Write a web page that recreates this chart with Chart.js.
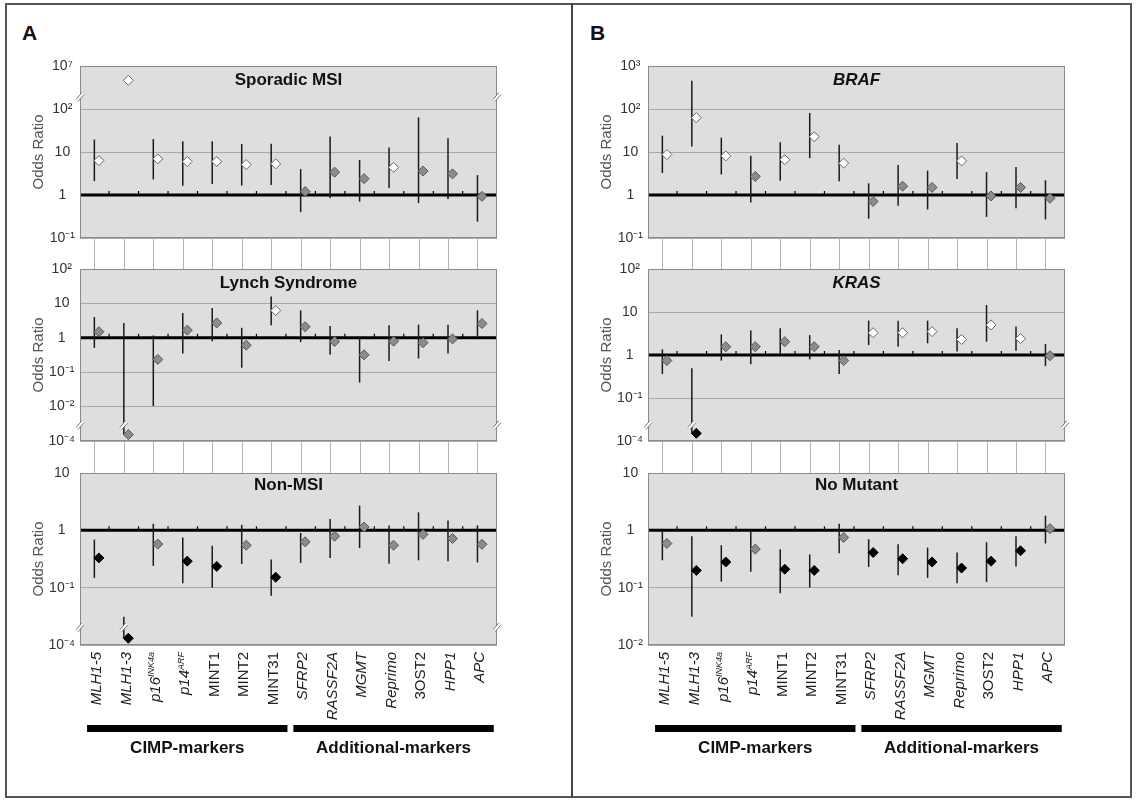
<!DOCTYPE html>
<html>
<head>
<meta charset="utf-8">
<title>Odds ratios of marker methylation</title>
<script src="https://cdn.jsdelivr.net/npm/chart.js"></script>
<style>
    body { margin: 0; width: 1139px; height: 802px; background: #fff; position: relative; overflow: hidden; }
    .frame { position: absolute; left: 5px; top: 3px; width: 1127px; height: 795px; border: 2px solid #555; box-sizing: border-box; }
    .divider { position: absolute; left: 571px; top: 3px; width: 2px; height: 795px; background: #444; }
    .letter { position: absolute; font: bold 21px "Liberation Sans", Arial, sans-serif; line-height: 21px; color: #111; }
    .panel { position: absolute; }
</style>
</head>
<body>
<div class="frame"></div>
<div class="divider"></div>
<div class="letter" style="left: 22px; top: 22px;">A</div>
<div class="letter" style="left: 590px; top: 22px;">B</div>
<div id="holder"></div>

<script>
// markers on the x axis ("^" starts a superscript)
const markers = ['MLH1-5', 'MLH1-3', 'p16^INK4a', 'p14^ARF', 'MINT1', 'MINT2', 'MINT31',
                 'SFRP2', 'RASSF2A', 'MGMT', 'Reprimo', '3OST2', 'HPP1', 'APC'];
const markerItalic = [true, true, true, true, false, false, false, true, true, true, true, false, true, true];
const groupNames = ['CIMP-markers', 'Additional-markers'];
const groupFirst = [0, 7];
const groupLast = [6, 13];

// sig: up = significantly raised (white), ns = not significant (grey), down = lowered (black)

// A - Sporadic MSI
const sporadicOR   = [6.3, 7e4, 6.9, 6.0, 6.0, 5.1, 5.3, 1.2, 3.4, 2.4, 4.4, 3.6, 3.1, 0.93];
const sporadicLow  = [2.1, null, 2.3, 1.65, 1.8, 1.65, 1.7, 0.40, 0.85, 0.70, 1.45, 0.65, 0.81, 0.24];
const sporadicHigh = [19.5, null, 20, 17.7, 17.7, 15.4, 15.6, 4.0, 23, 6.5, 12.8, 64, 21, 2.9];
const sporadicSig  = ['up', 'up', 'up', 'up', 'up', 'up', 'up', 'ns', 'ns', 'ns', 'up', 'ns', 'ns', 'ns'];
const sporadicTicks = [0.1, 1, 10, 100, 1e7];
const sporadicTickLabels = ['10⁻¹', '1', '10', '10²', '10⁷'];

// A - Lynch Syndrome
const lynchOR   = [1.5, 4e-4, 0.235, 1.67, 2.7, 0.61, 6.2, 2.1, 0.78, 0.32, 0.8, 0.72, 0.93, 2.6];
const lynchLow  = [0.51, 4e-4, 0.0104, 0.35, 0.8, 0.135, 2.3, 0.75, 0.32, 0.05, 0.21, 0.25, 0.35, 1.0];
const lynchHigh = [4.0, 2.7, 1.17, 5.3, 7.4, 1.95, 16, 6.3, 2.2, 1.07, 2.3, 2.4, 2.4, 6.3];
const lynchSig  = ['ns', 'ns', 'ns', 'ns', 'ns', 'ns', 'up', 'ns', 'ns', 'ns', 'ns', 'ns', 'ns', 'ns'];
const lynchTicks = [1e-4, 0.01, 0.1, 1, 10, 100];
const lynchTickLabels = ['10⁻⁴', '10⁻²', '10⁻¹', '1', '10', '10²'];

// A - Non-MSI
const nonMsiOR   = [0.33, 8e-4, 0.575, 0.29, 0.235, 0.55, 0.152, 0.63, 0.79, 1.14, 0.55, 0.85, 0.72, 0.57];
const nonMsiLow  = [0.148, 8e-4, 0.24, 0.119, 0.1, 0.26, 0.072, 0.27, 0.33, 0.49, 0.26, 0.30, 0.29, 0.275];
const nonMsiHigh = [0.69, 0.031, 1.3, 0.75, 0.54, 1.25, 0.31, 0.9, 1.58, 2.7, 1.22, 2.06, 1.48, 1.22];
const nonMsiSig  = ['down', 'down', 'ns', 'down', 'down', 'ns', 'down', 'ns', 'ns', 'ns', 'ns', 'ns', 'ns', 'ns'];
const nonMsiTicks = [1e-4, 0.1, 1, 10];
const nonMsiTickLabels = ['10⁻⁴', '10⁻¹', '1', '10'];

// B - BRAF
const brafOR   = [8.7, 63, 8.1, 2.7, 6.6, 22.7, 5.5, 0.71, 1.6, 1.5, 6.2, 0.95, 1.5, 0.84];
const brafLow  = [3.25, 13.5, 3.0, 0.67, 2.15, 7.2, 2.1, 0.28, 0.56, 0.46, 2.35, 0.31, 0.49, 0.27];
const brafHigh = [24, 455, 21.5, 8.2, 16.8, 81, 14.8, 1.87, 5.0, 3.7, 16.2, 3.4, 4.5, 2.2];
const brafSig  = ['up', 'up', 'up', 'ns', 'up', 'up', 'up', 'ns', 'ns', 'ns', 'up', 'ns', 'ns', 'ns'];
const brafTicks = [0.1, 1, 10, 100, 1000];
const brafTickLabels = ['10⁻¹', '1', '10', '10²', '10³'];

// B - KRAS
const krasOR   = [0.74, 0.0015, 1.56, 1.56, 2.04, 1.56, 0.74, 3.3, 3.3, 3.5, 2.3, 5.0, 2.4, 0.96];
const krasLow  = [0.36, 0.0015, 0.74, 0.61, 1.05, 0.79, 0.36, 1.7, 1.56, 1.87, 1.2, 2.04, 1.26, 0.55];
const krasHigh = [1.36, 0.49, 3.0, 3.7, 4.2, 2.9, 1.3, 6.3, 6.3, 6.3, 4.2, 14.5, 4.6, 1.8];
const krasSig  = ['ns', 'down', 'ns', 'ns', 'ns', 'ns', 'ns', 'up', 'up', 'up', 'up', 'up', 'up', 'ns'];
const krasTicks = [1e-4, 0.1, 1, 10, 100];
const krasTickLabels = ['10⁻⁴', '10⁻¹', '1', '10', '10²'];

// B - No Mutant
const noMutOR   = [0.59, 0.2, 0.28, 0.47, 0.21, 0.2, 0.75, 0.41, 0.32, 0.28, 0.22, 0.29, 0.44, 1.07];
const noMutLow  = [0.30, 0.031, 0.127, 0.19, 0.08, 0.1, 0.40, 0.23, 0.165, 0.148, 0.12, 0.125, 0.235, 0.59];
const noMutHigh = [1.0, 0.79, 0.55, 1.0, 0.47, 0.38, 1.3, 0.70, 0.57, 0.50, 0.41, 0.62, 0.79, 1.8];
const noMutSig  = ['ns', 'down', 'down', 'ns', 'down', 'down', 'ns', 'down', 'down', 'down', 'down', 'down', 'down', 'ns'];
const noMutTicks = [0.01, 0.1, 1, 10];
const noMutTickLabels = ['10⁻²', '10⁻¹', '1', '10'];

const FONT = '"Liberation Sans", Arial, sans-serif';
const FILL = { up: '#ffffff', ns: '#8c8c8c', down: '#000000' };
const EDGE = { up: '#666666', ns: '#555555', down: '#000000' };
const BAR_SHIFT = 4.5; // error bars sit a little left of the diamonds

// broken log axis: beyond brk.at the decades are squeezed so brk.log lands on brk.pos
function toPos(v, brk) {
    const l = Math.log10(v);
    if (brk && (l - brk.at) * (brk.log - brk.at) > 0) {
        return brk.at + (l - brk.at) * (brk.pos - brk.at) / (brk.log - brk.at);
    }
    return l;
}

const panels = [
    { col: 0, row: 0, title: 'Sporadic MSI', italic: false, or: sporadicOR, low: sporadicLow, high: sporadicHigh, sig: sporadicSig, ticks: sporadicTicks, tickLabels: sporadicTickLabels, brk: { at: 2.27, log: 7, pos: 3 } },
    { col: 0, row: 1, title: 'Lynch Syndrome', italic: false, or: lynchOR, low: lynchLow, high: lynchHigh, sig: lynchSig, ticks: lynchTicks, tickLabels: lynchTickLabels, brk: { at: -2.55, log: -4, pos: -3 } },
    { col: 0, row: 2, title: 'Non-MSI', italic: false, or: nonMsiOR, low: nonMsiLow, high: nonMsiHigh, sig: nonMsiSig, ticks: nonMsiTicks, tickLabels: nonMsiTickLabels, brk: { at: -1.7, log: -4, pos: -2 } },
    { col: 1, row: 0, title: 'BRAF', italic: true, or: brafOR, low: brafLow, high: brafHigh, sig: brafSig, ticks: brafTicks, tickLabels: brafTickLabels, brk: null },
    { col: 1, row: 1, title: 'KRAS', italic: true, or: krasOR, low: krasLow, high: krasHigh, sig: krasSig, ticks: krasTicks, tickLabels: krasTickLabels, brk: { at: -1.64, log: -4, pos: -2 } },
    { col: 1, row: 2, title: 'No Mutant', italic: false, or: noMutOR, low: noMutLow, high: noMutHigh, sig: noMutSig, ticks: noMutTicks, tickLabels: noMutTickLabels, brk: null }
];

const rowTop = [46, 249, 453];
const rowHeight = [223, 224, 349];
const PLOT_H = 172;

function line(ctx, x1, y1, x2, y2) {
    ctx.beginPath(); ctx.moveTo(x1, y1); ctx.lineTo(x2, y2); ctx.stroke();
}

function breakMark(ctx, x, y) {
    ctx.save();
    ctx.fillStyle = '#fff';
    ctx.beginPath();
    ctx.moveTo(x - 4, y + 2); ctx.lineTo(x + 2, y - 5); ctx.lineTo(x + 4, y - 3); ctx.lineTo(x - 2, y + 4);
    ctx.closePath(); ctx.fill();
    ctx.strokeStyle = '#777'; ctx.lineWidth = 1;
    line(ctx, x - 4, y + 2, x + 2, y - 5);
    line(ctx, x - 2, y + 4, x + 4, y - 3);
    ctx.restore();
}

function drawMarker(ctx, text, italic, xx, yy) {
    const parts = text.split('^');
    const base = parts[0], sup = parts[1] || '';
    const fBase = (italic ? 'italic ' : '') + '15px ' + FONT;
    const fSup = (italic ? 'italic ' : '') + '9px ' + FONT;
    ctx.font = fBase; const wb = ctx.measureText(base).width;
    ctx.font = fSup; const ws = ctx.measureText(sup).width;
    ctx.save();
    ctx.translate(xx, yy);
    ctx.rotate(-Math.PI / 2);
    ctx.fillStyle = '#222';
    ctx.textBaseline = 'middle';
    ctx.textAlign = 'left';
    ctx.font = fBase; ctx.fillText(base, -(wb + ws), 0);
    ctx.font = fSup; ctx.fillText(sup, -ws, -4);
    ctx.restore();
}

function makePlugin(pn, idx) {
    return {
        id: 'panel' + idx,
        beforeDraw(chart) {
            const a = chart.chartArea, ctx = chart.ctx;
            ctx.save();
            ctx.fillStyle = '#dedede';
            ctx.fillRect(a.left, a.top, a.right - a.left, a.bottom - a.top);
            ctx.restore();
        },
        beforeDatasetsDraw(chart) {
            const ctx = chart.ctx, a = chart.chartArea;
            const x = chart.scales.x, y = chart.scales.y;
            ctx.save();
            // reference line at OR = 1 with small category ticks
            const y1 = y.getPixelForValue(toPos(1, pn.brk));
            ctx.strokeStyle = '#000';
            ctx.lineWidth = 3;
            line(ctx, a.left, y1, a.right, y1);
            ctx.lineWidth = 1.2;
            for (let i = 0; i < markers.length - 1; i++) {
                const xx = x.getPixelForValue(i + 0.5) - BAR_SHIFT;
                line(ctx, xx, y1 - 4, xx, y1);
            }
            // confidence intervals
            ctx.strokeStyle = '#1a1a1a';
            ctx.lineWidth = 1.5;
            pn.low.forEach((lo, i) => {
                const hi = pn.high[i];
                if (lo == null || hi == null) return;
                const xx = x.getPixelForValue(i) - BAR_SHIFT;
                const pLo = toPos(lo, pn.brk), pHi = toPos(hi, pn.brk);
                line(ctx, xx, y.getPixelForValue(pLo), xx, y.getPixelForValue(pHi));
                if (pn.brk && (pLo - pn.brk.at) * (pHi - pn.brk.at) < 0) {
                    breakMark(ctx, xx, y.getPixelForValue(pn.brk.at));
                }
            });
            // plot frame and axis breaks
            ctx.strokeStyle = '#8a8a8a';
            ctx.lineWidth = 1;
            ctx.strokeRect(a.left + 0.5, a.top + 0.5, a.right - a.left - 1, a.bottom - a.top - 1);
            if (pn.brk) {
                const yb = y.getPixelForValue(pn.brk.at);
                breakMark(ctx, a.left, yb);
                breakMark(ctx, a.right, yb);
            }
            // panel title
            ctx.fillStyle = '#111';
            ctx.font = (pn.italic ? 'italic ' : '') + 'bold 17px ' + FONT;
            ctx.textAlign = 'center';
            ctx.textBaseline = 'middle';
            ctx.fillText(pn.title, (a.left + a.right) / 2, a.top + (pn.row === 2 ? 12 : 14));
            ctx.restore();
        },
        afterDraw(chart) {
            const ctx = chart.ctx, a = chart.chartArea, x = chart.scales.x;
            ctx.save();
            if (pn.row < 2) {
                // thin guides down to the next panel
                ctx.strokeStyle = '#b4b4b4';
                ctx.lineWidth = 1;
                markers.forEach((m, i) => {
                    const xx = Math.round(x.getPixelForValue(i) - BAR_SHIFT) + 0.5;
                    line(ctx, xx, a.bottom + 1, xx, chart.height);
                });
            } else {
                markers.forEach((m, i) => {
                    drawMarker(ctx, m, markerItalic[i], x.getPixelForValue(i) - 2, a.bottom + 7);
                });
                groupNames.forEach((g, k) => {
                    const xl = x.getPixelForValue(groupFirst[k] - 0.4);
                    const xr = x.getPixelForValue(groupLast[k] + 0.4);
                    ctx.fillStyle = '#000';
                    ctx.fillRect(xl, a.bottom + 80, xr - xl, 7);
                    ctx.fillStyle = '#111';
                    ctx.font = 'bold 17px ' + FONT;
                    ctx.textAlign = 'center';
                    ctx.textBaseline = 'middle';
                    ctx.fillText(g, (xl + xr) / 2, a.bottom + 103);
                });
            }
            ctx.restore();
        }
    };
}

const holder = document.getElementById('holder');
panels.forEach((pn, idx) => {
    const div = document.createElement('div');
    div.className = 'panel';
    div.style.left = (pn.col * 568) + 'px';
    div.style.top = rowTop[pn.row] + 'px';
    const cv = document.createElement('canvas');
    cv.width = 520;
    cv.height = rowHeight[pn.row];
    cv.style.width = '520px';
    cv.style.height = rowHeight[pn.row] + 'px';
    div.appendChild(cv);
    holder.appendChild(div);

    const tickPos = pn.ticks.map(t => toPos(t, pn.brk));

    new Chart(cv, {
        type: 'scatter',
        data: {
            datasets: [{
                data: pn.or.map((v, i) => ({ x: i, y: toPos(v, pn.brk) })),
                pointStyle: 'rectRot',
                pointRadius: 5,
                pointHoverRadius: 5,
                pointBackgroundColor: pn.sig.map(s => FILL[s]),
                pointBorderColor: pn.sig.map(s => EDGE[s]),
                pointBorderWidth: 1
            }]
        },
        options: {
            responsive: false,
            animation: false,
            events: [],
            layout: { padding: { top: 20, right: 23, left: 0, bottom: rowHeight[pn.row] - 20 - PLOT_H } },
            plugins: { legend: { display: false }, tooltip: { enabled: false } },
            scales: {
                x: { type: 'linear', display: false, min: -0.64, max: 13.51 },
                y: {
                    type: 'linear',
                    min: tickPos[0],
                    max: tickPos[tickPos.length - 1],
                    afterBuildTicks: axis => { axis.ticks = tickPos.map(v => ({ value: v })); },
                    afterFit: axis => { axis.width = 80; },
                    grid: { color: '#a9a9a9', drawTicks: false },
                    border: { display: false },
                    ticks: {
                        autoSkip: false,
                        crossAlign: 'center',
                        padding: 5,
                        color: '#333',
                        font: { size: 14, family: FONT },
                        callback: (v, i) => pn.tickLabels[i]
                    },
                    title: {
                        display: true,
                        text: 'Odds Ratio',
                        color: '#555',
                        font: { size: 15, family: FONT },
                        padding: { top: 30, bottom: 0 }
                    }
                }
            }
        },
        plugins: [makePlugin(pn, idx)]
    });
});
</script>
</body>
</html>
